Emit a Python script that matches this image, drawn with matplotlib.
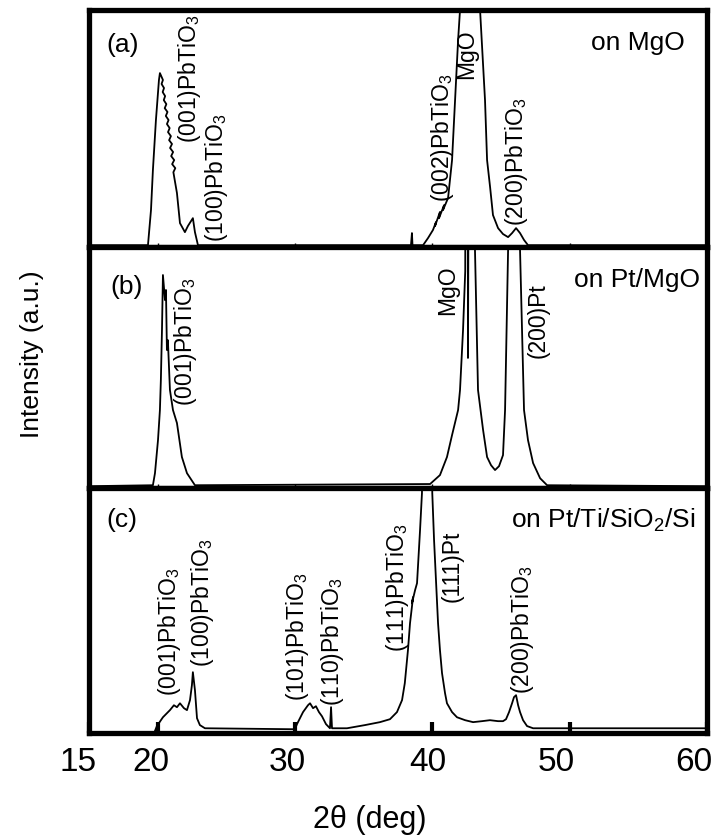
import matplotlib
matplotlib.use("Agg")
import matplotlib.pyplot as plt
from matplotlib.transforms import ScaledTranslation

plt.rcParams['font.family'] = ['Liberation Sans', 'DejaVu Sans']
plt.rcParams['mathtext.fontset'] = 'custom'
plt.rcParams['mathtext.rm'] = 'Liberation Sans'
plt.rcParams['mathtext.it'] = 'Liberation Sans:italic'

# XRD scans, 2theta (deg) vs intensity scaled to panel height (1 = top of panel)
tt_a = [15.0, 19.30, 19.52, 19.66, 19.88, 20.10, 20.17,
        20.39, 20.29, 20.47, 20.37, 20.55, 20.45, 20.64, 20.52, 20.72, 20.60,
        20.80, 20.68, 20.88, 20.76, 20.97, 20.84, 21.05, 20.91, 21.13, 20.99,
        21.21, 21.06, 21.29, 21.15,
        21.41, 21.63, 21.99, 22.21, 22.57, 22.72, 22.94, 38.45, 38.52, 38.56,
        39.33, 39.69, 40.05, 40.27, 40.20, 40.56, 40.49, 40.86, 40.78, 41.15,
        41.44, 41.66, 41.88, 42.02, 42.80, 43.48, 43.84, 43.99, 44.21, 44.42,
        44.79, 45.15, 45.52, 45.81, 46.10, 46.39, 46.68, 46.97, 60.0]
int_a = [0.008, 0.008, 0.156, 0.325, 0.536, 0.705, 0.734,
         0.705, 0.688, 0.671, 0.654, 0.637, 0.620, 0.603, 0.586, 0.570, 0.553,
         0.536, 0.519, 0.502, 0.485, 0.468, 0.451, 0.435, 0.418, 0.401, 0.384,
         0.367, 0.350, 0.333, 0.316,
         0.228, 0.101, 0.063, 0.089, 0.122, 0.063, 0.008, 0.008, 0.059, 0.008,
         0.008, 0.038, 0.072, 0.105, 0.089, 0.148, 0.122, 0.177, 0.156, 0.207,
         0.367, 0.620, 0.873, 1.0, 3.0, 1.0, 0.62, 0.367, 0.253, 0.135,
         0.08, 0.055, 0.042, 0.059, 0.08, 0.059, 0.03, 0.008, 0.008]

tt_b = [15.0, 19.66, 19.81, 20.03, 20.17, 20.24, 20.32, 20.39, 20.54, 20.61, 20.68,
        20.75, 20.90, 21.12, 21.41, 21.77, 22.14, 22.72, 39.84, 40.56, 41.07, 41.44,
        41.88, 42.02, 42.24, 42.40, 42.50, 42.60, 42.85, 43.11, 43.33, 43.70, 43.99,
        44.28, 44.57, 44.86, 45.15, 45.30, 45.52, 45.95, 46.39, 46.68, 46.97, 47.34,
        47.85, 48.36, 60.0]
int_b = [0.008, 0.012, 0.062, 0.199, 0.324, 0.45, 0.656, 0.884, 0.78, 0.822, 0.573,
         0.614, 0.407, 0.324, 0.27, 0.129, 0.062, 0.012, 0.017, 0.054, 0.129, 0.22,
         0.324, 0.407, 0.656, 0.9, 5.0, 0.54, 5.0, 0.988, 0.407, 0.241, 0.129,
         0.095, 0.075, 0.091, 0.137, 0.324, 0.988, 8.0, 0.988, 0.324, 0.199, 0.104,
         0.041, 0.012, 0.008]

tt_c = [19.80, 19.95, 20.39, 20.90, 21.19, 21.41, 21.63, 21.92, 22.14, 22.36, 22.50,
        22.57, 22.72, 22.87, 23.08, 23.45, 30.00, 30.15, 30.59, 30.95, 31.10, 31.32,
        31.53, 31.75, 31.97, 32.26, 32.55, 32.63, 32.70, 33.79, 35.10, 36.19, 36.92,
        37.43, 37.80, 38.00, 38.23, 38.38, 38.60, 38.52, 38.75, 38.89, 39.11, 39.25,
        39.60, 40.00, 40.13, 40.27, 40.42, 40.56, 40.71, 40.93, 41.07, 41.44, 41.80,
        42.39, 42.97, 43.62, 44.20, 44.79, 45.15, 45.37, 45.59, 45.81, 45.95, 46.10,
        46.25, 46.39, 46.61, 46.90, 47.34, 60.0]
int_c = [0.008, 0.029, 0.065, 0.094, 0.114, 0.106, 0.122, 0.102, 0.094, 0.135, 0.196,
         0.249, 0.176, 0.061, 0.033, 0.02, 0.016, 0.037, 0.086, 0.114, 0.122, 0.102,
         0.11, 0.086, 0.069, 0.037, 0.02, 0.106, 0.02, 0.02, 0.033, 0.045, 0.057,
         0.086, 0.135, 0.204, 0.339, 0.449, 0.555, 0.53, 0.584, 0.612, 0.829, 0.98,
         5.0, 0.98, 0.788, 0.624, 0.449, 0.339, 0.245, 0.163, 0.122, 0.086, 0.065,
         0.053, 0.045, 0.049, 0.053, 0.049, 0.049, 0.057, 0.086, 0.122, 0.147, 0.155,
         0.114, 0.086, 0.053, 0.029, 0.02, 0.02]

panel_tags = ['(a)', '(b)', '(c)']
substrates = ['on MgO', 'on Pt/MgO', 'on Pt/Ti/SiO$_2$/Si']
xtick_vals = [15, 20, 30, 40, 50, 60]

PTO = '(%s)PbTiO$_3$'
peak_labels = [
    [(PTO % '001', 22.36, 0.44), (PTO % '100', 24.32, 0.02),
     (PTO % '002', 40.78, 0.19), ('MgO', 42.53, 0.71), (PTO % '200', 46.1, 0.09)],
    [(PTO % '001', 22.06, 0.34), ('MgO', 41.15, 0.72), ('(200)Pt', 47.7, 0.54)],
    [(PTO % '001', 20.9, 0.15), (PTO % '100', 23.3, 0.27),
     (PTO % '101', 30.22, 0.13), (PTO % '110', 32.7, 0.11),
     (PTO % '111', 37.5, 0.33), ('(111)Pt', 41.44, 0.535), (PTO % '200', 46.6, 0.16)],
]

fig = plt.figure(figsize=(7.17, 8.36), dpi=100)
gs = fig.add_gridspec(3, 1, height_ratios=[237, 241, 245], hspace=0,
                      left=0.124, right=0.986, top=0.988, bottom=0.123)
axes = [fig.add_subplot(gs[i]) for i in range(3)]

scans = [(tt_a, int_a), (tt_b, int_b), (tt_c, int_c)]
tag_pos = [(17.48, 0.852), (17.77, 0.834), (17.4, 0.869)]
sub_pos = [(58.41, 0.861), (59.5, 0.863), (59.14, 0.869)]

for i, ax in enumerate(axes):
    x, y = scans[i]
    ax.plot(x, y, color='black', lw=1.3)
    ax.set_xlim(15, 60)
    ax.set_ylim(0, 1)
    ax.set_yticks([])
    ax.set_xticks(xtick_vals)
    for s in ax.spines.values():
        s.set_linewidth(3.8)
    ax.text(tag_pos[i][0], tag_pos[i][1], panel_tags[i], fontsize=19,
            ha='center', va='center')
    ax.text(sub_pos[i][0], sub_pos[i][1], substrates[i], fontsize=19,
            ha='right', va='center')
    for txt, px, py in peak_labels[i]:
        ax.text(px, py, txt, fontsize=16.5, rotation=90, ha='center', va='bottom')
    if i < 2:
        ax.tick_params(axis='x', direction='in', length=3, width=1,
                       labelbottom=False)
    else:
        ax.tick_params(axis='x', direction='in', length=8, width=3,
                       labelsize=24, pad=10)

# tick labels sit a little left of their ticks
shifts = [-11, -7, -8, -4, -13, -13]
for lbl, dx in zip(axes[2].get_xticklabels(), shifts):
    lbl.set_transform(lbl.get_transform() +
                      ScaledTranslation(dx / 100, 0, fig.dpi_scale_trans))

fig.text(0.516, 0.019, '2θ (deg)', fontsize=22, ha='center', va='center')
fig.text(0.044, 0.576, 'Intensity (a.u.)', fontsize=19, rotation=90,
         ha='center', va='center')

fig.savefig('out.png', dpi=100)
